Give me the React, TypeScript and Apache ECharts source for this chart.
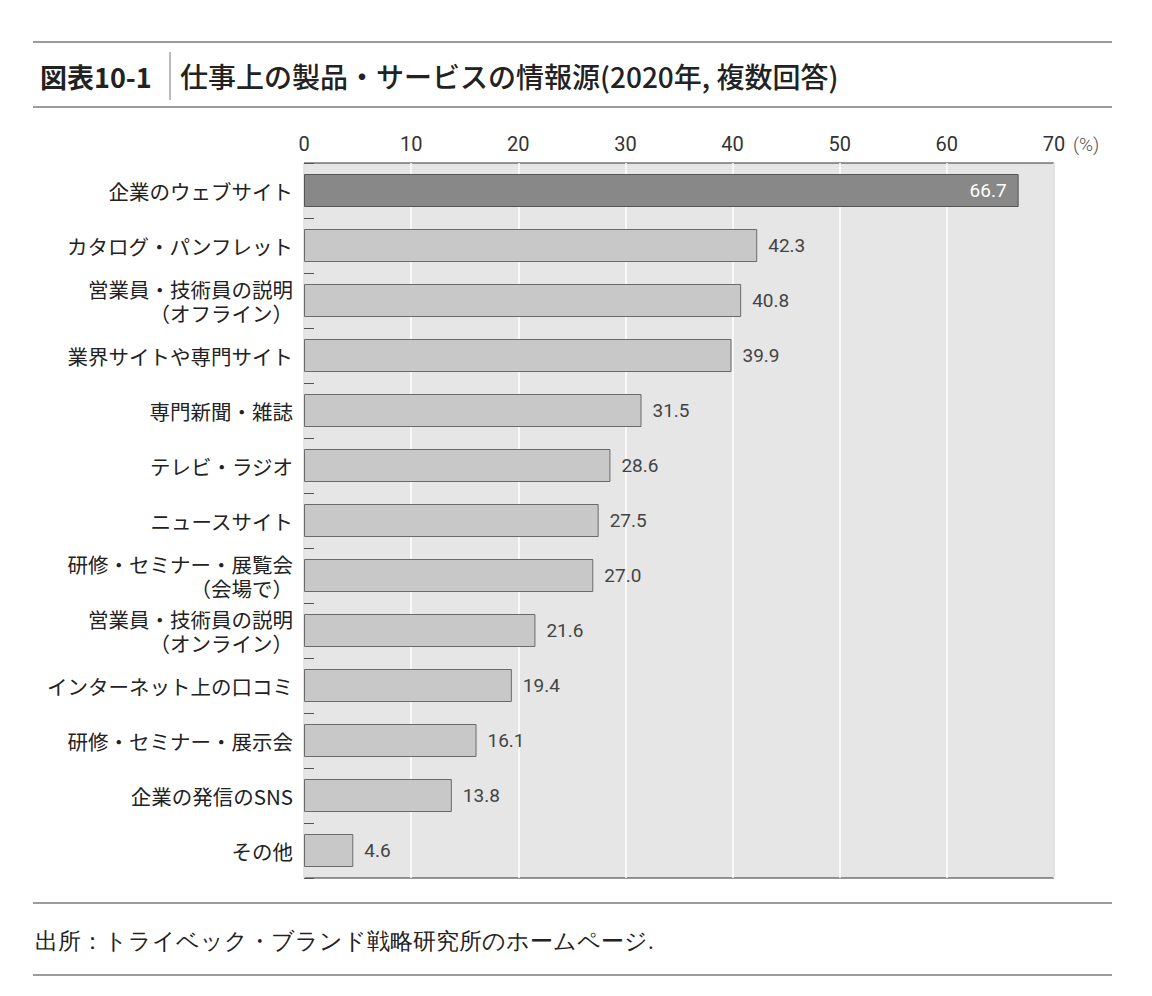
import React, { useEffect, useRef } from "react";
import * as echarts from "echarts";

const categories = [
  "企業のウェブサイト",
  "カタログ・パンフレット",
  "営業員・技術員の説明\n（オフライン）",
  "業界サイトや専門サイト",
  "専門新聞・雑誌",
  "テレビ・ラジオ",
  "ニュースサイト",
  "研修・セミナー・展覧会\n（会場で）",
  "営業員・技術員の説明\n（オンライン）",
  "インターネット上の口コミ",
  "研修・セミナー・展示会",
  "企業の発信のSNS",
  "その他",
];
const values = [66.7, 42.3, 40.8, 39.9, 31.5, 28.6, 27.5, 27.0, 21.6, 19.4, 16.1, 13.8, 4.6];
const highlightIndex = 0;

const titleLabel = "図表10-1";
const titleText = "仕事上の製品・サービスの情報源(2020年, 複数回答)";
const unitText = "(%)";
const sourceText = "出所：トライベック・ブランド戦略研究所のホームページ.";

const JP = "'Noto Sans CJK JP', 'Noto Sans', sans-serif";
const NUM = "Roboto, 'Noto Sans CJK JP', sans-serif";

export default function App() {
  const ref = useRef<HTMLDivElement>(null);
  useEffect(() => {
    document.body.style.margin = "0";
    const chart = echarts.init(ref.current!, null, { renderer: "svg" });
    const ruleStyle = { stroke: "#7a7a7a", lineWidth: 1.5 };
    chart.setOption({
      animation: false,
      backgroundColor: "#ffffff",
      grid: {
        left: 304,
        top: 163,
        width: 750,
        height: 715,
        show: true,
        backgroundColor: "#e6e6e6",
        borderColor: "#333",
        borderWidth: 1,
      },
      xAxis: {
        type: "value",
        position: "top",
        min: 0,
        max: 70,
        interval: 10,
        axisLine: { show: false },
        axisTick: { show: false },
        axisLabel: { margin: 9, fontSize: 20, color: "#333", fontFamily: NUM, fontWeight: 400 },
        splitLine: { show: true, lineStyle: { color: "#ffffff", width: 1.5 } },
      },
      yAxis: {
        type: "category",
        data: categories,
        inverse: true,
        axisLine: { show: false },
        axisTick: { show: true, inside: true, length: 10, lineStyle: { color: "#555" } },
        axisLabel: {
          margin: 11,
          fontSize: 20.5,
          lineHeight: 24,
          color: "#222",
          fontFamily: JP,
          align: "right",
        },
        splitLine: { show: false },
      },
      series: [
        {
          type: "bar",
          barWidth: 33,
          data: values.map((v, i) =>
            i === highlightIndex
              ? {
                  value: v,
                  itemStyle: { color: "#888888", borderColor: "#555", borderWidth: 1 },
                  label: { position: "insideRight", color: "#ffffff", distance: 12 },
                }
              : { value: v }
          ),
          itemStyle: { color: "#c8c8c8", borderColor: "#6a6a6a", borderWidth: 1 },
          label: {
            show: true,
            position: "right",
            distance: 11,
            fontSize: 19,
            color: "#444",
            fontFamily: NUM,
            fontWeight: 400,
            formatter: (p: any) => Number(p.value).toFixed(1),
          },
        },
      ],
      graphic: [
        { type: "line", shape: { x1: 33, y1: 42, x2: 1112, y2: 42 }, style: ruleStyle },
        { type: "line", shape: { x1: 33, y1: 107, x2: 1112, y2: 107 }, style: ruleStyle },
        { type: "line", shape: { x1: 33, y1: 903, x2: 1112, y2: 903 }, style: ruleStyle },
        { type: "line", shape: { x1: 33, y1: 975, x2: 1112, y2: 975 }, style: ruleStyle },
        { type: "line", shape: { x1: 170, y1: 52, x2: 170, y2: 100 }, style: { stroke: "#777", lineWidth: 1 } },
        {
          type: "text",
          x: 40,
          y: 76,
          style: {
            text: titleLabel,
            font: "bold 27px " + JP,
            fill: "#222",
            verticalAlign: "middle",
          },
        },
        {
          type: "text",
          x: 180,
          y: 76,
          style: {
            text: titleText,
            font: "500 28px " + JP,
            fill: "#222",
            verticalAlign: "middle",
          },
        },
        {
          type: "text",
          x: 1073,
          y: 144,
          style: {
            text: unitText,
            font: "300 19px " + NUM,
            fill: "#555",
            verticalAlign: "middle",
          },
        },
        {
          type: "text",
          x: 35,
          y: 941,
          style: {
            text: sourceText,
            font: "22.5px serif",
            fill: "#222",
            verticalAlign: "middle",
          },
        },
      ],
    });
    return () => chart.dispose();
  }, []);
  return <div ref={ref} style={{ width: 1152, height: 996 }} />;
}
